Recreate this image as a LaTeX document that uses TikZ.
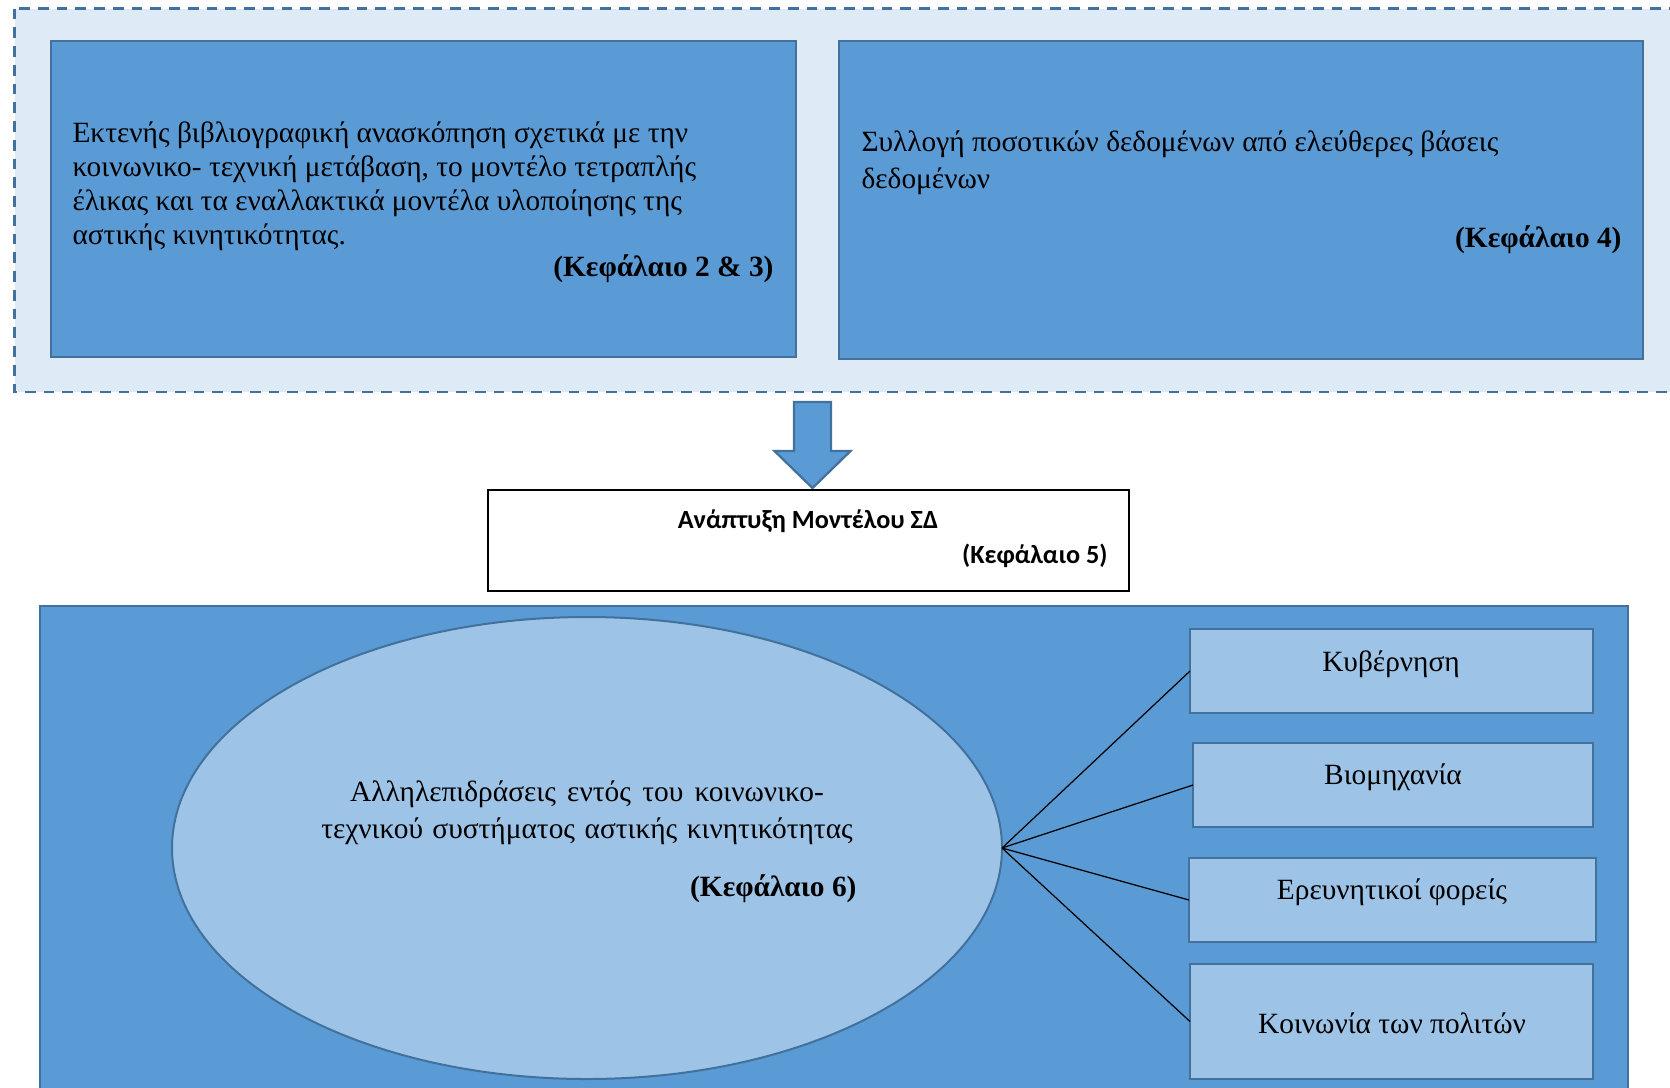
\documentclass[tikz,border=0pt]{standalone}
\usepackage{fontspec}
\setmainfont{Liberation Serif}
\newfontfamily\labelsans{Carlito}
\usetikzlibrary{shapes.geometric}
\definecolor{panel}{HTML}{DEEAF6}
\definecolor{midblue}{HTML}{5B9BD5}
\definecolor{paleblue}{HTML}{9DC3E6}
\definecolor{edgeblue}{HTML}{41719C}
% keep the font's own interword space inside fixed-width nodes
\newcommand\fontspaces{\spaceskip=0pt\xspaceskip=0pt\relax}

\begin{document}
\begin{tikzpicture}[x=0.4pt,y=-0.4pt,
  sized/.style 2 args={minimum width=#1*0.4pt, minimum height=#2*0.4pt, inner sep=0pt, outer sep=0pt},
  darkbox/.style={draw=edgeblue, fill=midblue, line width=1.1pt},
  palebox/.style={draw=edgeblue, fill=paleblue, line width=1.1pt},
  body/.style={font=\fontsize{11.75}{13.6}\selectfont, inner sep=0pt, text=black},
  chapter/.style={font=\fontsize{11.75}{13.6}\selectfont\bfseries, inner sep=0pt, anchor=base east},
  sidetext/.style={font=\fontsize{11.75}{14}\selectfont, inner sep=0pt, anchor=base}
]
\useasboundingbox (0,0) rectangle (1670,1087);

% dashed frame around the two source stages
\draw[edgeblue, fill=panel, line width=1.1pt, dash pattern=on 4.3pt off 3.2pt] (14.5,8.5) rectangle (1720,392);

% source stages
\node[darkbox, sized={745}{316}] (lit) at (423.5,199) {};
\node[darkbox, sized={804}{318}] (data) at (1241,200) {};

\node[body, text width=300pt, align=left, anchor=base west] (littext) at (72,142)
  {\fontspaces Εκτενής βιβλιογραφική ανασκόπηση σχετικά με την\\
   κοινωνικο- τεχνική μετάβαση, το μοντέλο τετραπλής\\
   έλικας και τα εναλλακτικά μοντέλα υλοποίησης της\\
   αστικής κινητικότητας.};
\node[chapter] (litch) at (774,276) {(Κεφάλαιο 2 \& 3)};

\node[body, font=\fontsize{11.75}{14.8}\selectfont, text width=300pt, align=left, anchor=base west] (datatext) at (861,151)
  {\fontspaces Συλλογή ποσοτικών δεδομένων από ελεύθερες βάσεις\\
   δεδομένων};
\node[chapter] (datach) at (1622,247) {(Κεφάλαιο 4)};

% block arrow down to the model stage
\draw[edgeblue, fill=midblue, line width=0.9pt, line join=miter]
  (794,402) -- (831,402) -- (831,451) -- (850.5,451) -- (812.5,488)
  -- (774.5,451) -- (794,451) -- cycle;

% model development stage
\node[draw=black, fill=white, line width=0.6pt, sized={641}{101}] (model) at (808.5,540.5) {};
\node[font=\labelsans\fontsize{10.5}{12}\selectfont\bfseries, inner sep=0pt, anchor=base] (modeltext) at (808,528) {Ανάπτυξη Μοντέλου ΣΔ};
\node[font=\labelsans\fontsize{10.5}{12}\selectfont\bfseries, inner sep=0pt, anchor=base east] (modelch) at (1108,563) {(Κεφάλαιο 5)};

% interactions stage
\node[darkbox, sized={1588}{520}] (system) at (834,866) {};
\node[ellipse, draw=edgeblue, fill=paleblue, line width=0.8pt, sized={830}{462}] (inter) at (587,848) {};
\node[body, font=\fontsize{11.75}{14.8}\selectfont, text width=240pt, align=center, anchor=base] (intertext) at (587,801)
  {\fontspaces Αλληλεπιδράσεις εντός του κοινωνικο-\\
   τεχνικού συστήματος αστικής κινητικότητας};
\node[chapter] (interch) at (857,896) {(Κεφάλαιο 6)};

% actors of the quadruple helix
\node[palebox, sized={403}{84}] (gov) at (1391.5,671) {};
\node[palebox, sized={400}{84}] (ind) at (1393,785) {};
\node[palebox, sized={407}{84}] (res) at (1392.5,900) {};
\node[palebox, sized={403}{115}] (civ) at (1391.5,1021.5) {};

\node[sidetext] (govtext) at (1391,671) {Κυβέρνηση};
\node[sidetext] (indtext) at (1393,784) {Βιομηχανία};
\node[sidetext] (restext) at (1392,899) {Ερευνητικοί φορείς};
\node[sidetext] (civtext) at (1392,1033) {Κοινωνία των πολιτών};

\foreach \actor in {gov,ind,res,civ}
  \draw[black, line width=0.5pt] (inter.east) -- (\actor.west);
\end{tikzpicture}
\end{document}
